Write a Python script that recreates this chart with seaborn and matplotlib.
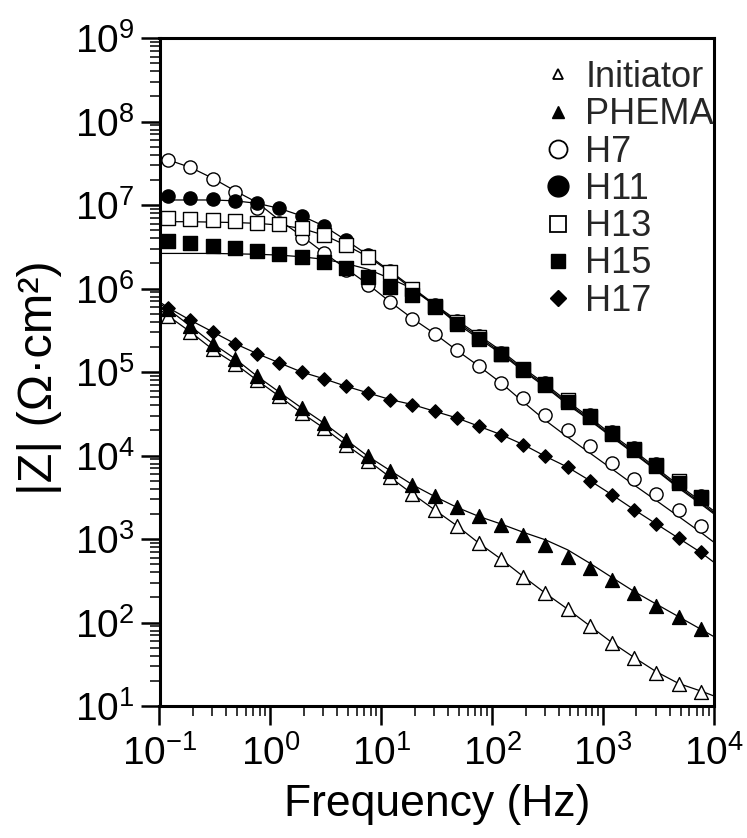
import numpy as np
import pandas as pd
import matplotlib
matplotlib.use("Agg")
import matplotlib.pyplot as plt
import seaborn as sns
from matplotlib.lines import Line2D
from matplotlib.ticker import LogLocator, NullFormatter

# ---------------- data ----------------
freq_hz = [0.120, 0.190, 0.302, 0.479, 0.759, 1.20, 1.91, 3.02, 4.79, 7.59,
           12.0, 19.1, 30.2, 47.9, 75.9, 120, 191, 302, 479, 759,
           1200, 1910, 3020, 4790, 7590]
fit_freq_hz = [0.1] + freq_hz + [10000]

series_names = ["Initiator", "PHEMA", "H7", "H11", "H13", "H15", "H17"]

# measured log10|Z| (Ohm cm^2)
logz_initiator = [5.67, 5.48, 5.27, 5.10, 4.90, 4.71, 4.51, 4.33, 4.13, 3.94, 3.74, 3.54, 3.35,
                  3.16, 2.95, 2.76, 2.55, 2.35, 2.16, 1.96, 1.76, 1.58, 1.40, 1.26, 1.17]
logz_phema = [5.75, 5.55, 5.34, 5.16, 4.95, 4.76, 4.57, 4.39, 4.19, 3.99, 3.82, 3.65, 3.51,
              3.38, 3.27, 3.17, 3.05, 2.93, 2.79, 2.65, 2.51, 2.35, 2.20, 2.07, 1.92]
logz_h7 = [7.54, 7.45, 7.31, 7.15, 6.97, 6.78, 6.60, 6.42, 6.22, 6.04, 5.84, 5.64, 5.46,
           5.26, 5.07, 4.87, 4.69, 4.49, 4.30, 4.11, 3.91, 3.72, 3.54, 3.35, 3.16]
logz_h11 = [7.11, 7.08, 7.07, 7.05, 7.02, 6.96, 6.87, 6.75, 6.58, 6.40, 6.21, 6.00, 5.80,
            5.61, 5.43, 5.23, 5.04, 4.87, 4.67, 4.48, 4.28, 4.09, 3.90, 3.70, 3.51]
logz_h13 = [6.85, 6.83, 6.82, 6.81, 6.79, 6.77, 6.72, 6.64, 6.52, 6.38, 6.20, 5.99, 5.79,
            5.60, 5.42, 5.22, 5.03, 4.86, 4.66, 4.47, 4.27, 4.08, 3.89, 3.69, 3.50]
logz_h15 = [6.57, 6.55, 6.51, 6.48, 6.45, 6.41, 6.38, 6.32, 6.25, 6.14, 6.02, 5.92, 5.78,
            5.58, 5.40, 5.22, 5.02, 4.84, 4.64, 4.46, 4.26, 4.07, 3.87, 3.67, 3.49]
logz_h17 = [5.77, 5.62, 5.48, 5.34, 5.22, 5.11, 5.00, 4.92, 4.83, 4.75, 4.67, 4.61, 4.53,
            4.45, 4.35, 4.25, 4.13, 3.99, 3.86, 3.70, 3.53, 3.35, 3.18, 3.01, 2.84]

# fitted curves log10|Z| at fit_freq_hz
fit_logz_initiator = [5.75, 5.67, 5.48, 5.27, 5.10, 4.90, 4.71, 4.51, 4.33, 4.13, 3.94, 3.74, 3.54,
                      3.35, 3.16, 2.95, 2.76, 2.55, 2.35, 2.16, 1.96, 1.76, 1.58, 1.41, 1.27, 1.18, 1.12]
fit_logz_phema = [5.82, 5.75, 5.55, 5.34, 5.16, 4.95, 4.76, 4.57, 4.39, 4.19, 3.99, 3.82, 3.65,
                  3.51, 3.38, 3.27, 3.18, 3.08, 2.99, 2.87, 2.71, 2.54, 2.37, 2.22, 2.07, 1.92, 1.83]
fit_logz_h7 = [7.57, 7.54, 7.45, 7.32, 7.17, 7.03, 6.82, 6.63, 6.43, 6.24, 6.05, 5.84, 5.64,
               5.46, 5.26, 5.07, 4.87, 4.64, 4.42, 4.22, 4.03, 3.84, 3.645, 3.46, 3.27, 3.08, 2.96]
fit_logz_h11 = [7.06, 7.06, 7.06, 7.06, 7.05, 7.02, 6.96, 6.87, 6.75, 6.58, 6.40, 6.21, 6.01,
                5.81, 5.62, 5.44, 5.255, 5.045, 4.855, 4.645, 4.455, 4.25, 4.055, 3.85, 3.645, 3.455, 3.335]
fit_logz_h13 = [6.80, 6.80, 6.80, 6.795, 6.79, 6.78, 6.76, 6.72, 6.64, 6.52, 6.38, 6.20, 5.99,
                5.80, 5.60, 5.42, 5.235, 5.025, 4.835, 4.625, 4.435, 4.23, 4.035, 3.83, 3.625, 3.435, 3.315]
fit_logz_h15 = [6.42, 6.42, 6.42, 6.42, 6.415, 6.41, 6.40, 6.38, 6.35, 6.30, 6.23, 6.12, 6.00,
                5.80, 5.58, 5.40, 5.22, 5.01, 4.82, 4.61, 4.42, 4.22, 4.02, 3.82, 3.61, 3.42, 3.30]
fit_logz_h17 = [5.84, 5.77, 5.62, 5.48, 5.34, 5.22, 5.11, 5.00, 4.92, 4.83, 4.75, 4.67, 4.61,
                4.53, 4.45, 4.35, 4.25, 4.13, 3.99, 3.86, 3.70, 3.53, 3.35, 3.18, 3.01, 2.84, 2.72]

# ---------------- tables ----------------
points = {
    "Initiator": logz_initiator, "PHEMA": logz_phema, "H7": logz_h7, "H11": logz_h11,
    "H13": logz_h13, "H15": logz_h15, "H17": logz_h17,
}
fits = {
    "Initiator": fit_logz_initiator, "PHEMA": fit_logz_phema, "H7": fit_logz_h7,
    "H11": fit_logz_h11, "H13": fit_logz_h13, "H15": fit_logz_h15, "H17": fit_logz_h17,
}
pts_df = pd.concat([pd.DataFrame({"series": n, "freq": freq_hz, "Z": 10 ** np.array(points[n])})
                    for n in series_names], ignore_index=True)
fit_df = pd.concat([pd.DataFrame({"series": n, "freq": fit_freq_hz, "Z": 10 ** np.array(fits[n])})
                    for n in series_names], ignore_index=True)

# marker styles: (marker, face, scatter size, legend size)
style = {
    "Initiator": ("^", "white", 100, 6.5),
    "PHEMA": ("^", "black", 100, 8),
    "H7": ("o", "white", 90, 13),
    "H11": ("o", "black", 90, 15),
    "H13": ("s", "white", 95, 11),
    "H15": ("s", "black", 95, 10),
    "H17": ("D", "black", 46, 8.5),
}
draw_order = ["H17", "H7", "H11", "H13", "H15", "Initiator", "PHEMA"]

# ---------------- plot ----------------
sns.set_theme(style="ticks")
plt.rcParams["font.family"] = ["Liberation Sans", "DejaVu Sans"]
plt.rcParams["mathtext.fontset"] = "custom"
plt.rcParams["mathtext.rm"] = "Liberation Sans"
plt.rcParams["mathtext.it"] = "Liberation Sans:italic"
plt.rcParams["mathtext.bf"] = "Liberation Sans:bold"

W, H = 747, 838
fig = plt.figure(figsize=(W / 100, H / 100), dpi=100)
fig.patch.set_facecolor("white")
left, right, top, bottom = 159.5, 714, 38, 706
ax = fig.add_axes([left / W, 1 - bottom / H, (right - left) / W, (bottom - top) / H])
ax.set_facecolor("white")
ax.set_xscale("log")
ax.set_yscale("log")

for n in series_names:
    sub = fit_df[fit_df["series"] == n]
    sns.lineplot(data=sub, x="freq", y="Z", color="black", linewidth=0.9,
                 estimator=None, sort=False, legend=False, ax=ax, zorder=2)

for i, n in enumerate(draw_order):
    sub = pts_df[pts_df["series"] == n]
    m, face, s, _ = style[n]
    sns.scatterplot(data=sub, x="freq", y="Z", marker=m, s=s, color=face,
                    edgecolor="black", linewidth=1.0, legend=False, ax=ax, zorder=3 + i)

ax.set_xlim(0.1, 1e4)
ax.set_ylim(10, 1e9)

ax.xaxis.set_major_locator(LogLocator(base=10, numticks=20))
ax.yaxis.set_major_locator(LogLocator(base=10, numticks=20))
ax.xaxis.set_minor_locator(LogLocator(base=10, subs=np.arange(2, 10) * 1.0, numticks=100))
ax.yaxis.set_minor_locator(LogLocator(base=10, subs=np.arange(2, 10) * 1.0, numticks=100))
ax.xaxis.set_minor_formatter(NullFormatter())
ax.yaxis.set_minor_formatter(NullFormatter())

ax.tick_params(which="major", direction="out", length=14, width=1.8, labelsize=28,
               color="black", labelcolor="black", top=False, right=False)
ax.tick_params(which="minor", direction="out", length=7, width=1.1, color="black",
               top=False, right=False)
ax.tick_params(axis="x", which="major", pad=7)
ax.tick_params(axis="y", which="major", pad=4)

for sp in ax.spines.values():
    sp.set_linewidth(2.2)
    sp.set_color("black")
    sp.set_visible(True)

ax.set_xlabel("Frequency (Hz)", fontsize=32, color="black", labelpad=8)
ax.set_ylabel("|Z| (Ω·cm²)", fontsize=35, color="black")
ax.yaxis.set_label_coords(-0.176, 0.491)

handles = []
for n in series_names:
    m, face, _, ms = style[n]
    handles.append(Line2D([], [], linestyle="none", marker=m, markersize=ms,
                          markerfacecolor=face, markeredgecolor="black",
                          markeredgewidth=1.3 if face == "white" else 1.0, label=n))
ax.legend(handles=handles, loc="upper left", bbox_to_anchor=(0.6799, 0.978),
          frameon=False, fontsize=26, handlelength=0.8, handletextpad=0.35,
          labelspacing=0.064, borderaxespad=0.0, borderpad=0.2)

fig.savefig("out.png", dpi=100, facecolor="white")
